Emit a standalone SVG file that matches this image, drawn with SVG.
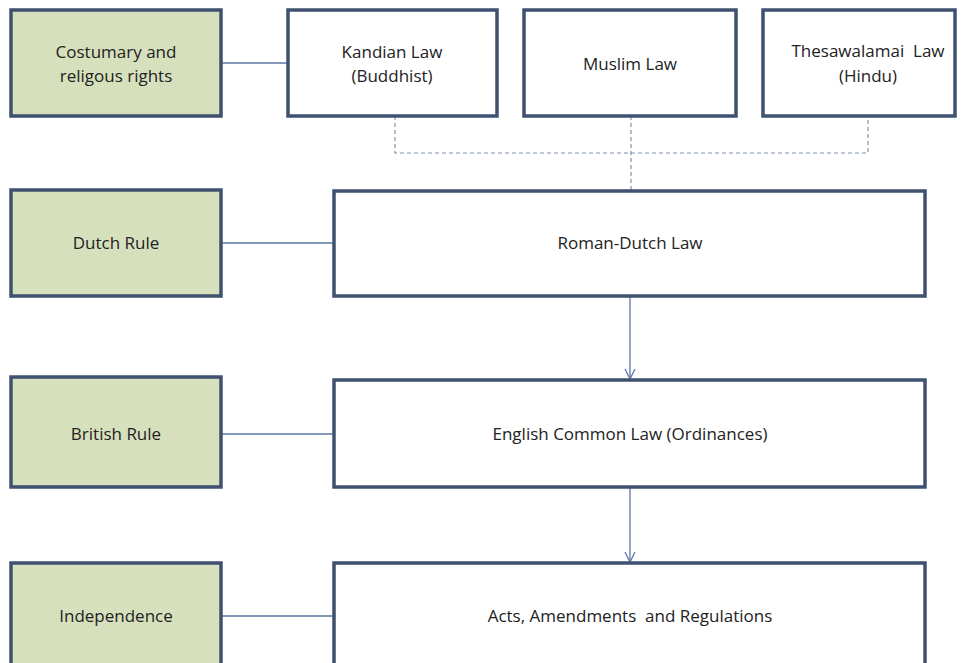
<svg xmlns="http://www.w3.org/2000/svg" width="962" height="663" viewBox="0 0 962 663">
<style>
.box{fill:#ffffff;stroke:#3e5170;stroke-width:3.5}
.era{fill:#d7e0bd;stroke:#3e5170;stroke-width:3.5}
.t{font-family:"Open Sans","DejaVu Sans",sans-serif;font-size:17px;fill:#222;text-anchor:middle}
.c{stroke:#5b76a6;stroke-width:1.3;fill:none}
.d{stroke:#7d8fae;stroke-width:1.2;fill:none;stroke-dasharray:4 3}
</style>
<defs>
<marker id="ah" viewBox="0 0 12 12" refX="11" refY="6" markerWidth="12" markerHeight="12" markerUnits="userSpaceOnUse" orient="auto">
<path d="M1,1 L11,6 L1,11" fill="none" stroke="#5b76a6" stroke-width="1.3"/>
</marker>
</defs>
<rect width="962" height="663" fill="#ffffff"/>
<g id="connectors">
<line class="c" x1="221" y1="63" x2="288" y2="63"/>
<line class="c" x1="221" y1="243" x2="334" y2="243"/>
<line class="c" x1="221" y1="434" x2="334" y2="434"/>
<line class="c" x1="221" y1="616" x2="334" y2="616"/>
<polyline class="d" points="395,116 395,153 868,153 868,116"/>
<line class="d" x1="631" y1="116" x2="631" y2="190"/>
<line class="c" x1="630" y1="297" x2="630" y2="379" marker-end="url(#ah)"/>
<line class="c" x1="630" y1="488" x2="630" y2="562" marker-end="url(#ah)"/>
</g>
<g id="costumary"><rect class="era" x="11" y="10" width="210" height="106"/><text class="t" x="116" y="58">Costumary and</text><text class="t" x="116" y="82">religous rights</text></g>
<g id="kandian"><rect class="box" x="288" y="10" width="209" height="106"/><text class="t" x="392" y="58">Kandian Law</text><text class="t" x="392" y="82">(Buddhist)</text></g>
<g id="muslim"><rect class="box" x="524" y="10" width="212" height="106"/><text class="t" x="630" y="70">Muslim Law</text></g>
<g id="thesawalamai"><rect class="box" x="763" y="10" width="192" height="106"/><text class="t" x="868" y="57" xml:space="preserve">Thesawalamai  Law</text><text class="t" x="868" y="82">(Hindu)</text></g>
<g id="dutch"><rect class="era" x="11" y="190" width="210" height="106"/><text class="t" x="116" y="249">Dutch Rule</text></g>
<g id="romandutch"><rect class="box" x="334" y="191" width="591" height="105"/><text class="t" x="630" y="249">Roman-Dutch Law</text></g>
<g id="british"><rect class="era" x="11" y="377" width="210" height="110"/><text class="t" x="116" y="440">British Rule</text></g>
<g id="english"><rect class="box" x="334" y="380" width="591" height="107"/><text class="t" x="630" y="440">English Common Law (Ordinances)</text></g>
<g id="independence"><rect class="era" x="11" y="563" width="210" height="110"/><text class="t" x="116" y="622">Independence</text></g>
<g id="acts"><rect class="box" x="334" y="563" width="591" height="110"/><text class="t" x="630" y="622" xml:space="preserve">Acts, Amendments  and Regulations</text></g>
</svg>
